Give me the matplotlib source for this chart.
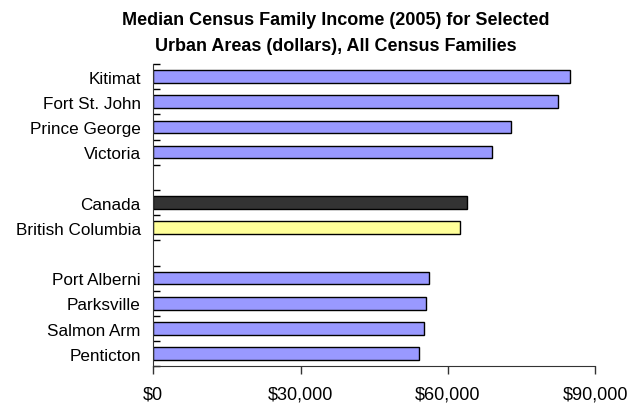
import matplotlib
matplotlib.use("Agg")
import matplotlib.pyplot as plt
import numpy as np

plt.rcParams['font.family'] = ['Liberation Sans', 'DejaVu Sans']

categories = ["Kitimat", "Fort St. John", "Prince George", "Victoria", "",
              "Canada", "British Columbia", "",
              "Port Alberni", "Parksville", "Salmon Arm", "Penticton"]
values = [84900, 82400, 72800, 69000, None,
          63800, 62500, None,
          56200, 55500, 55100, 54000]
colors = ["#9999FF", "#9999FF", "#9999FF", "#9999FF", "#FFFFFF",
          "#333333", "#FFFF99", "#FFFFFF",
          "#9999FF", "#9999FF", "#9999FF", "#9999FF"]
xticks = [0, 30000, 60000, 90000]
xticklabels = ["$0", "$30,000", "$60,000", "$90,000"]
title = "Median Census Family Income (2005) for Selected\nUrban Areas (dollars), All Census Families"

fig = plt.figure(figsize=(6.42, 4.06), dpi=100)
ax = fig.add_axes([0.2388, 0.0953, 0.6885, 0.7447])

pos = np.arange(len(categories))
for p, v, c in zip(pos, values, colors):
    if v is not None:
        ax.barh(p, v, height=0.5, color=c, edgecolor="black", linewidth=1.0)

ax.set_ylim(len(categories) - 0.5, -0.5)
ax.set_xlim(0, 90000)
ax.set_yticks(pos)
ax.set_yticklabels(categories, fontsize=12.3)
ax.tick_params(axis='y', which='major', length=0, pad=9)
ax.set_yticks(np.arange(-0.5, len(categories)), minor=True)
ax.tick_params(axis='y', which='minor', direction='in', length=5, width=1, color='black')
ax.set_xticks(xticks)
ax.set_xticklabels(xticklabels, fontsize=13)
ax.tick_params(axis='x', direction='out', length=6, width=1, color='#333333', pad=8)

for s in ['top', 'right']:
    ax.spines[s].set_visible(False)
ax.spines['left'].set_color('#333333')
ax.spines['bottom'].set_color('#333333')

fig.suptitle(title, x=0.523, fontsize=13, fontweight='bold', y=0.97, linespacing=1.7)

fig.savefig("out.png", dpi=100)
